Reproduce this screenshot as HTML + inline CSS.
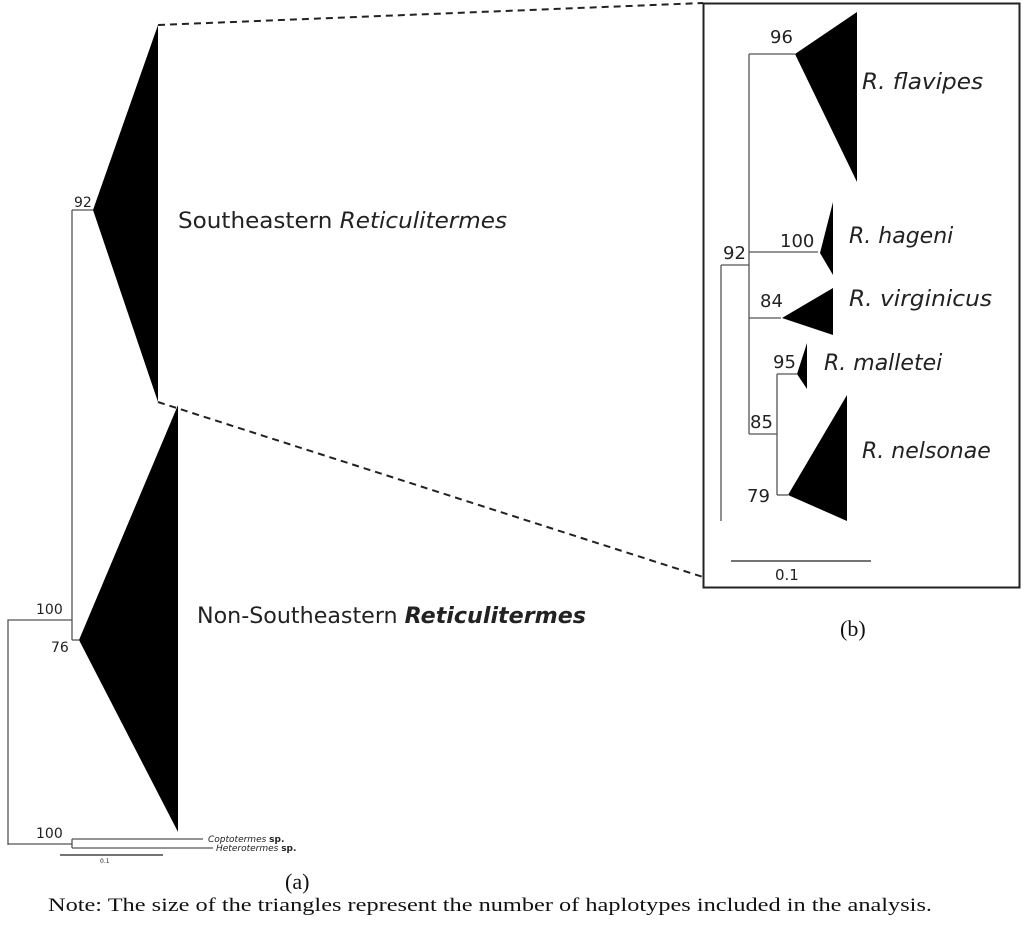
<!DOCTYPE html>
<html><head><meta charset="utf-8"><style>
html,body{margin:0;padding:0;background:#fff;}
svg{display:block}
</style></head><body>
<svg width="1024" height="927" viewBox="0 0 1024 927" xmlns="http://www.w3.org/2000/svg">
<g fill="none" stroke="#555" stroke-width="1.3">
<!-- left tree -->
<polyline points="8,845 8,620 72,620"/>
<line x1="72" y1="210" x2="72" y2="640"/>
<line x1="72" y1="210" x2="93" y2="210"/>
<line x1="72" y1="640" x2="79" y2="640"/>
<line x1="8" y1="844" x2="72" y2="844"/>
<line x1="72" y1="839" x2="72" y2="848"/>
<line x1="72" y1="839" x2="203" y2="839"/>
<line x1="72" y1="848" x2="213" y2="848"/>
<line x1="60" y1="855" x2="163" y2="855" stroke="#222"/>
<!-- right tree -->
<line x1="721" y1="265" x2="721" y2="521"/>
<line x1="721" y1="265" x2="749" y2="265"/>
<line x1="749" y1="54" x2="749" y2="434"/>
<line x1="749" y1="54" x2="795" y2="54"/>
<line x1="749" y1="252" x2="818" y2="252"/>
<line x1="749" y1="318" x2="781" y2="318"/>
<line x1="749" y1="434" x2="777" y2="434"/>
<line x1="777" y1="374" x2="777" y2="495"/>
<line x1="777" y1="374" x2="797" y2="374"/>
<line x1="777" y1="495" x2="788" y2="495"/>
<line x1="731" y1="561" x2="871" y2="561" stroke="#222"/>
</g>
<g fill="#000">
<polygon points="93,210 158,25 158,402"/>
<polygon points="79,640 178,405 178,832"/>
<polygon points="795,54 857,12 857,182"/>
<polygon points="820,253 833,202 833,275"/>
<polygon points="782,318 833,288 833,335"/>
<polygon points="797,374 807,343 807,389"/>
<polygon points="788,495 847,395 847,521"/>
</g>
<rect x="703.5" y="3.5" width="316" height="584" fill="none" stroke="#222" stroke-width="2"/>
<g stroke="#222" stroke-width="2" stroke-dasharray="7,5">
<line x1="158" y1="25" x2="703" y2="3"/>
<line x1="158" y1="402" x2="703" y2="577"/>
</g>
<g font-family="DejaVu Sans, Liberation Sans, sans-serif" fill="#222">
<text x="74" y="207" font-size="14">92</text>
<text x="36" y="614" font-size="14">100</text>
<text x="51" y="652" font-size="14">76</text>
<text x="36" y="838" font-size="14">100</text>
<text x="208" y="842" font-size="9" font-style="italic">Coptotermes <tspan font-style="normal" font-weight="bold">sp.</tspan></text>
<text x="216" y="851" font-size="9" font-style="italic">Heterotermes <tspan font-style="normal" font-weight="bold">sp.</tspan></text>
<text x="100" y="863" font-size="6">0.1</text>
<text x="178" y="228" font-size="22" textLength="329" lengthAdjust="spacingAndGlyphs">Southeastern <tspan font-style="italic">Reticulitermes</tspan></text>
<text x="197" y="623" font-size="22" textLength="389" lengthAdjust="spacingAndGlyphs">Non-Southeastern <tspan font-style="italic" font-weight="bold">Reticulitermes</tspan></text>
<text x="770" y="43" font-size="18">96</text>
<text x="723" y="259" font-size="18">92</text>
<text x="780" y="247" font-size="18">100</text>
<text x="760" y="307" font-size="18">84</text>
<text x="773" y="368" font-size="18">95</text>
<text x="750" y="428" font-size="18">85</text>
<text x="747" y="502" font-size="18">79</text>
<text x="775" y="580" font-size="15">0.1</text>
<g font-style="italic" font-size="22">
<text x="862" y="89" textLength="121" lengthAdjust="spacingAndGlyphs">R. flavipes</text>
<text x="849" y="243">R. hageni</text>
<text x="849" y="306" textLength="143" lengthAdjust="spacingAndGlyphs">R. virginicus</text>
<text x="824" y="370">R. malletei</text>
<text x="862" y="458">R. nelsonae</text>
</g>
</g>
<g font-family="Liberation Serif, serif" fill="#111">
<text x="285" y="889" font-size="22">(a)</text>
<text x="840" y="636" font-size="22">(b)</text>
<text x="48" y="911" font-size="19" textLength="884" lengthAdjust="spacingAndGlyphs">Note: The size of the triangles represent the number of haplotypes included in the analysis.</text>
</g>
</svg>
</body></html>
